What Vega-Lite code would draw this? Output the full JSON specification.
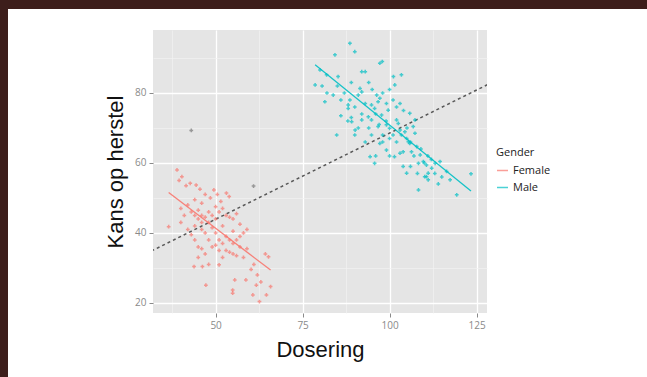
{
  "$schema": "https://vega.github.io/schema/vega-lite/v6.json",
  "background": "white",
  "padding": 0,
  "spacing": 0,
  "config": {"view": {"stroke": null}, "concat": {"spacing": 0}},
  "datasets": {
    "points": [
      {"dose": 38.9, "recovery": 58, "gender": "Female"},
      {"dose": 40.3, "recovery": 56.1, "gender": "Female"},
      {"dose": 39.5, "recovery": 55, "gender": "Female"},
      {"dose": 41.5, "recovery": 53.5, "gender": "Female"},
      {"dose": 42.7, "recovery": 54.2, "gender": "Female"},
      {"dose": 44.4, "recovery": 53.7, "gender": "Female"},
      {"dose": 45.5, "recovery": 52.5, "gender": "Female"},
      {"dose": 47, "recovery": 51, "gender": "Female"},
      {"dose": 49.5, "recovery": 52.3, "gender": "Female"},
      {"dose": 50.5, "recovery": 51, "gender": "Female"},
      {"dose": 53.1, "recovery": 51.4, "gender": "Female"},
      {"dose": 53.9, "recovery": 50.4, "gender": "Female"},
      {"dose": 48.5, "recovery": 50, "gender": "Female"},
      {"dose": 51.5, "recovery": 49, "gender": "Female"},
      {"dose": 44, "recovery": 49.5, "gender": "Female"},
      {"dose": 46, "recovery": 48.5, "gender": "Female"},
      {"dose": 42, "recovery": 48, "gender": "Female"},
      {"dose": 40, "recovery": 47, "gender": "Female"},
      {"dose": 43, "recovery": 46, "gender": "Female"},
      {"dose": 44, "recovery": 45, "gender": "Female"},
      {"dose": 45, "recovery": 46.5, "gender": "Female"},
      {"dose": 46, "recovery": 45, "gender": "Female"},
      {"dose": 47, "recovery": 44.5, "gender": "Female"},
      {"dose": 48, "recovery": 46, "gender": "Female"},
      {"dose": 49, "recovery": 45, "gender": "Female"},
      {"dose": 50, "recovery": 44, "gender": "Female"},
      {"dose": 51, "recovery": 46, "gender": "Female"},
      {"dose": 52, "recovery": 47, "gender": "Female"},
      {"dose": 48, "recovery": 43, "gender": "Female"},
      {"dose": 46, "recovery": 43, "gender": "Female"},
      {"dose": 45, "recovery": 44, "gender": "Female"},
      {"dose": 50, "recovery": 47.5, "gender": "Female"},
      {"dose": 53, "recovery": 45, "gender": "Female"},
      {"dose": 54, "recovery": 44.5, "gender": "Female"},
      {"dose": 55, "recovery": 44, "gender": "Female"},
      {"dose": 56, "recovery": 45.5, "gender": "Female"},
      {"dose": 36.5, "recovery": 41.8, "gender": "Female"},
      {"dose": 40, "recovery": 43, "gender": "Female"},
      {"dose": 42, "recovery": 41, "gender": "Female"},
      {"dose": 43, "recovery": 39.5, "gender": "Female"},
      {"dose": 44, "recovery": 38, "gender": "Female"},
      {"dose": 45, "recovery": 36, "gender": "Female"},
      {"dose": 46, "recovery": 41, "gender": "Female"},
      {"dose": 47, "recovery": 40, "gender": "Female"},
      {"dose": 48, "recovery": 38, "gender": "Female"},
      {"dose": 49, "recovery": 41.5, "gender": "Female"},
      {"dose": 50, "recovery": 40, "gender": "Female"},
      {"dose": 51, "recovery": 38, "gender": "Female"},
      {"dose": 52, "recovery": 37, "gender": "Female"},
      {"dose": 53, "recovery": 39, "gender": "Female"},
      {"dose": 54, "recovery": 38, "gender": "Female"},
      {"dose": 55, "recovery": 37, "gender": "Female"},
      {"dose": 56, "recovery": 38, "gender": "Female"},
      {"dose": 57, "recovery": 39, "gender": "Female"},
      {"dose": 58, "recovery": 40, "gender": "Female"},
      {"dose": 59, "recovery": 41, "gender": "Female"},
      {"dose": 53, "recovery": 35, "gender": "Female"},
      {"dose": 55, "recovery": 34, "gender": "Female"},
      {"dose": 56, "recovery": 33.5, "gender": "Female"},
      {"dose": 54, "recovery": 34.5, "gender": "Female"},
      {"dose": 51, "recovery": 35, "gender": "Female"},
      {"dose": 52, "recovery": 33, "gender": "Female"},
      {"dose": 49, "recovery": 36, "gender": "Female"},
      {"dose": 47, "recovery": 34, "gender": "Female"},
      {"dose": 46, "recovery": 35.5, "gender": "Female"},
      {"dose": 45, "recovery": 33, "gender": "Female"},
      {"dose": 48, "recovery": 31, "gender": "Female"},
      {"dose": 43.8, "recovery": 30.4, "gender": "Female"},
      {"dose": 46.2, "recovery": 30.4, "gender": "Female"},
      {"dose": 51, "recovery": 30.9, "gender": "Female"},
      {"dose": 58, "recovery": 33, "gender": "Female"},
      {"dose": 60.2, "recovery": 29.6, "gender": "Female"},
      {"dose": 61, "recovery": 31, "gender": "Female"},
      {"dose": 64.3, "recovery": 34, "gender": "Female"},
      {"dose": 65.2, "recovery": 33.2, "gender": "Female"},
      {"dose": 62, "recovery": 28, "gender": "Female"},
      {"dose": 65.8, "recovery": 24.7, "gender": "Female"},
      {"dose": 63, "recovery": 26, "gender": "Female"},
      {"dose": 61.7, "recovery": 25.1, "gender": "Female"},
      {"dose": 58.7, "recovery": 26.6, "gender": "Female"},
      {"dose": 55.5, "recovery": 26.6, "gender": "Female"},
      {"dose": 47.2, "recovery": 25.1, "gender": "Female"},
      {"dose": 54.9, "recovery": 22.8, "gender": "Female"},
      {"dose": 54.9, "recovery": 23.7, "gender": "Female"},
      {"dose": 60.7, "recovery": 22.3, "gender": "Female"},
      {"dose": 64.6, "recovery": 22.3, "gender": "Female"},
      {"dose": 62.6, "recovery": 20.4, "gender": "Female"},
      {"dose": 57, "recovery": 36, "gender": "Female"},
      {"dose": 59, "recovery": 35.5, "gender": "Female"},
      {"dose": 50, "recovery": 36.5, "gender": "Female"},
      {"dose": 44, "recovery": 42, "gender": "Female"},
      {"dose": 41, "recovery": 45, "gender": "Female"},
      {"dose": 52, "recovery": 42, "gender": "Female"},
      {"dose": 57, "recovery": 42.5, "gender": "Female"},
      {"dose": 55, "recovery": 40.5, "gender": "Female"},
      {"dose": 88.6, "recovery": 94.2, "gender": "Male"},
      {"dose": 90, "recovery": 91.8, "gender": "Male"},
      {"dose": 84.3, "recovery": 90.9, "gender": "Male"},
      {"dose": 97.9, "recovery": 89, "gender": "Male"},
      {"dose": 97.2, "recovery": 88.5, "gender": "Male"},
      {"dose": 78.6, "recovery": 82.3, "gender": "Male"},
      {"dose": 80, "recovery": 86.6, "gender": "Male"},
      {"dose": 81.9, "recovery": 85.2, "gender": "Male"},
      {"dose": 85.2, "recovery": 84.7, "gender": "Male"},
      {"dose": 92, "recovery": 86.1, "gender": "Male"},
      {"dose": 93, "recovery": 86.1, "gender": "Male"},
      {"dose": 101.1, "recovery": 84.7, "gender": "Male"},
      {"dose": 101.5, "recovery": 82.3, "gender": "Male"},
      {"dose": 103.4, "recovery": 85.2, "gender": "Male"},
      {"dose": 81.4, "recovery": 77.5, "gender": "Male"},
      {"dose": 83.8, "recovery": 79.4, "gender": "Male"},
      {"dose": 88.6, "recovery": 78, "gender": "Male"},
      {"dose": 91.5, "recovery": 81.3, "gender": "Male"},
      {"dose": 92, "recovery": 80.3, "gender": "Male"},
      {"dose": 91, "recovery": 79.4, "gender": "Male"},
      {"dose": 88.1, "recovery": 76.6, "gender": "Male"},
      {"dose": 88.1, "recovery": 75.6, "gender": "Male"},
      {"dose": 96.3, "recovery": 79.4, "gender": "Male"},
      {"dose": 97.2, "recovery": 78.5, "gender": "Male"},
      {"dose": 96.7, "recovery": 77.5, "gender": "Male"},
      {"dose": 94.8, "recovery": 76.6, "gender": "Male"},
      {"dose": 95.7, "recovery": 75.6, "gender": "Male"},
      {"dose": 99.1, "recovery": 77, "gender": "Male"},
      {"dose": 99.6, "recovery": 75.1, "gender": "Male"},
      {"dose": 101, "recovery": 78, "gender": "Male"},
      {"dose": 84.8, "recovery": 68, "gender": "Male"},
      {"dose": 90.1, "recovery": 69.4, "gender": "Male"},
      {"dose": 89.1, "recovery": 71.8, "gender": "Male"},
      {"dose": 92, "recovery": 72.3, "gender": "Male"},
      {"dose": 93.9, "recovery": 73.2, "gender": "Male"},
      {"dose": 94.8, "recovery": 72.3, "gender": "Male"},
      {"dose": 97.7, "recovery": 73.7, "gender": "Male"},
      {"dose": 96.7, "recovery": 70.4, "gender": "Male"},
      {"dose": 99.1, "recovery": 70.9, "gender": "Male"},
      {"dose": 100, "recovery": 69.9, "gender": "Male"},
      {"dose": 102, "recovery": 72.3, "gender": "Male"},
      {"dose": 102.5, "recovery": 71.3, "gender": "Male"},
      {"dose": 103, "recovery": 69.4, "gender": "Male"},
      {"dose": 103.4, "recovery": 68, "gender": "Male"},
      {"dose": 104.4, "recovery": 68.9, "gender": "Male"},
      {"dose": 104.9, "recovery": 67, "gender": "Male"},
      {"dose": 105.4, "recovery": 66.1, "gender": "Male"},
      {"dose": 106.8, "recovery": 70.4, "gender": "Male"},
      {"dose": 107.3, "recovery": 68.5, "gender": "Male"},
      {"dose": 100, "recovery": 67, "gender": "Male"},
      {"dose": 94.8, "recovery": 68, "gender": "Male"},
      {"dose": 94.4, "recovery": 61.8, "gender": "Male"},
      {"dose": 97.2, "recovery": 65.6, "gender": "Male"},
      {"dose": 99.1, "recovery": 63.7, "gender": "Male"},
      {"dose": 101.4, "recovery": 61.8, "gender": "Male"},
      {"dose": 103, "recovery": 62.8, "gender": "Male"},
      {"dose": 105.8, "recovery": 65.6, "gender": "Male"},
      {"dose": 106.3, "recovery": 63.2, "gender": "Male"},
      {"dose": 107.8, "recovery": 64.7, "gender": "Male"},
      {"dose": 108.8, "recovery": 62.3, "gender": "Male"},
      {"dose": 109.7, "recovery": 60.4, "gender": "Male"},
      {"dose": 110.6, "recovery": 59.4, "gender": "Male"},
      {"dose": 111.1, "recovery": 57.1, "gender": "Male"},
      {"dose": 110.6, "recovery": 56.1, "gender": "Male"},
      {"dose": 112.1, "recovery": 58.5, "gender": "Male"},
      {"dose": 113.1, "recovery": 59.9, "gender": "Male"},
      {"dose": 114.5, "recovery": 60.4, "gender": "Male"},
      {"dose": 108.3, "recovery": 59.9, "gender": "Male"},
      {"dose": 103.9, "recovery": 59, "gender": "Male"},
      {"dose": 104.9, "recovery": 57.1, "gender": "Male"},
      {"dose": 103.9, "recovery": 63.2, "gender": "Male"},
      {"dose": 95.7, "recovery": 59.9, "gender": "Male"},
      {"dose": 108.3, "recovery": 52.3, "gender": "Male"},
      {"dose": 119.3, "recovery": 50.9, "gender": "Male"},
      {"dose": 123.4, "recovery": 56.9, "gender": "Male"},
      {"dose": 116.4, "recovery": 57.6, "gender": "Male"},
      {"dose": 117.4, "recovery": 55.2, "gender": "Male"},
      {"dose": 110.1, "recovery": 56.1, "gender": "Male"},
      {"dose": 111.1, "recovery": 55.2, "gender": "Male"},
      {"dose": 107.3, "recovery": 72.3, "gender": "Male"},
      {"dose": 105.8, "recovery": 74.2, "gender": "Male"},
      {"dose": 80.6, "recovery": 82, "gender": "Male"},
      {"dose": 86, "recovery": 73.5, "gender": "Male"},
      {"dose": 88, "recovery": 72, "gender": "Male"},
      {"dose": 90, "recovery": 68, "gender": "Male"},
      {"dose": 91, "recovery": 70, "gender": "Male"},
      {"dose": 96, "recovery": 62, "gender": "Male"},
      {"dose": 98, "recovery": 66, "gender": "Male"},
      {"dose": 87, "recovery": 80, "gender": "Male"},
      {"dose": 89, "recovery": 83, "gender": "Male"},
      {"dose": 94, "recovery": 83, "gender": "Male"},
      {"dose": 95, "recovery": 81, "gender": "Male"},
      {"dose": 98, "recovery": 80, "gender": "Male"},
      {"dose": 100, "recovery": 81, "gender": "Male"},
      {"dose": 102, "recovery": 76, "gender": "Male"},
      {"dose": 104, "recovery": 75, "gender": "Male"},
      {"dose": 103, "recovery": 77, "gender": "Male"},
      {"dose": 93, "recovery": 77, "gender": "Male"},
      {"dose": 90, "recovery": 76, "gender": "Male"},
      {"dose": 86, "recovery": 78, "gender": "Male"},
      {"dose": 85, "recovery": 82, "gender": "Male"},
      {"dose": 82, "recovery": 80, "gender": "Male"},
      {"dose": 99, "recovery": 72, "gender": "Male"},
      {"dose": 101, "recovery": 68, "gender": "Male"},
      {"dose": 98, "recovery": 68, "gender": "Male"},
      {"dose": 105, "recovery": 70, "gender": "Male"},
      {"dose": 106, "recovery": 66, "gender": "Male"},
      {"dose": 107, "recovery": 62, "gender": "Male"},
      {"dose": 109, "recovery": 64, "gender": "Male"},
      {"dose": 111, "recovery": 62, "gender": "Male"},
      {"dose": 112, "recovery": 61, "gender": "Male"},
      {"dose": 113, "recovery": 57, "gender": "Male"},
      {"dose": 115, "recovery": 56, "gender": "Male"},
      {"dose": 114, "recovery": 54, "gender": "Male"},
      {"dose": 110, "recovery": 60, "gender": "Male"},
      {"dose": 108, "recovery": 57, "gender": "Male"},
      {"dose": 106, "recovery": 59, "gender": "Male"},
      {"dose": 100, "recovery": 62, "gender": "Male"},
      {"dose": 102, "recovery": 66, "gender": "Male"},
      {"dose": 97, "recovery": 71, "gender": "Male"},
      {"dose": 92, "recovery": 74, "gender": "Male"},
      {"dose": 96, "recovery": 74, "gender": "Male"},
      {"dose": 94, "recovery": 70, "gender": "Male"},
      {"dose": 93, "recovery": 66, "gender": "Male"},
      {"dose": 89, "recovery": 73, "gender": "Male"}
    ],
    "other": [
      {"dose": 43, "recovery": 69.3},
      {"dose": 60.9, "recovery": 53.4}
    ],
    "fits": [
      {"dose": 36.5, "recovery": 51.6, "gender": "Female"},
      {"dose": 65.8, "recovery": 29.4, "gender": "Female"},
      {"dose": 78.6, "recovery": 88.1, "gender": "Male"},
      {"dose": 123.4, "recovery": 52.0, "gender": "Male"}
    ],
    "overall": [
      {"dose": 30, "recovery": 34.1},
      {"dose": 130, "recovery": 83.3}
    ]
  },
  "hconcat": [
    {
      "width": 8, "height": 377,
      "view": {"fill": "#3d1e1b", "stroke": null},
      "data": {"values": []},
      "mark": "point"
    },
    {
      "spacing": 21,
      "vconcat": [
        {
          "width": 639, "height": 9,
          "view": {"fill": "#3d1e1b", "stroke": null},
          "data": {"values": []},
          "mark": "point"
        },
        {
          "spacing": 144,
          "bounds": "flush",
          "hconcat": [
            {"width": 1, "height": 1, "data": {"values": []}, "mark": "point"},
            {
              "width": 334, "height": 283,
              "view": {"fill": "#E5E5E5", "stroke": null},
              "encoding": {
                "x": {
                  "field": "dose", "type": "quantitative",
                  "scale": {"domain": [32, 128], "nice": false, "zero": false},
                  "axis": {
                    "title": "Dosering",
                    "values": [37.5, 50, 62.5, 75, 87.5, 100, 112.5, 125],
                    "labelExpr": "datum.value % 25 === 0 ? datum.label : ''",
                    "labelOverlap": false,
                    "labelFlush": false,
                    "domain": false,
                    "gridColor": {"condition": {"test": "datum.value % 25 === 0", "value": "#FFFFFF"}, "value": "#F2F2F2"},
                    "gridWidth": {"condition": {"test": "datum.value % 25 === 0", "value": 1.3}, "value": 0.7},
                    "tickOpacity": {"condition": {"test": "datum.value % 25 === 0", "value": 1}, "value": 0},
                    "tickColor": "#8a8a8a",
                    "tickSize": 4,
                    "labelColor": "#8a8a8a",
                    "labelFont": "Open Sans",
                    "labelFontSize": 10,
                    "labelPadding": 3,
                    "titleFont": "Liberation Sans",
                    "titleFontSize": 22,
                    "titleFontWeight": "normal",
                    "titleColor": "#111111",
                    "titlePadding": 9
                  }
                },
                "y": {
                  "field": "recovery", "type": "quantitative",
                  "scale": {"domain": [17.14, 98], "nice": false, "zero": false},
                  "axis": {
                    "title": "Kans op herstel",
                    "values": [20, 30, 40, 50, 60, 70, 80, 90],
                    "labelExpr": "datum.value % 20 === 0 ? datum.label : ''",
                    "labelOverlap": false,
                    "labelFlush": false,
                    "domain": false,
                    "gridColor": {"condition": {"test": "datum.value % 20 === 0", "value": "#FFFFFF"}, "value": "#F2F2F2"},
                    "gridWidth": {"condition": {"test": "datum.value % 20 === 0", "value": 1.3}, "value": 0.7},
                    "tickOpacity": {"condition": {"test": "datum.value % 20 === 0", "value": 1}, "value": 0},
                    "tickColor": "#8a8a8a",
                    "tickSize": 4,
                    "labelColor": "#8a8a8a",
                    "labelFont": "Open Sans",
                    "labelFontSize": 10,
                    "labelPadding": 3,
                    "titleFont": "Liberation Sans",
                    "titleFontSize": 22,
                    "titleFontWeight": "normal",
                    "titleColor": "#111111",
                    "titlePadding": 7
                  }
                }
              },
              "layer": [
                {
                  "data": {"name": "overall"},
                  "mark": {"type": "line", "color": "#333333", "strokeWidth": 1.5, "strokeDash": [3, 3], "opacity": 0.8, "clip": true}
                },
                {
                  "data": {"name": "other"},
                  "mark": {"type": "point", "shape": "cross", "filled": true, "size": 14, "color": "#777777", "opacity": 0.7}
                },
                {
                  "data": {"name": "points"},
                  "mark": {"type": "point", "shape": "cross", "filled": true, "size": 14, "opacity": 0.7},
                  "encoding": {
                    "color": {
                      "field": "gender", "type": "nominal",
                      "scale": {"domain": ["Female", "Male"], "range": ["#F8766D", "#00BFC4"]},
                      "legend": {
                        "title": "Gender",
                        "orient": "none",
                        "legendX": 496,
                        "legendY": 147,
                        "symbolType": "stroke",
                        "symbolStrokeWidth": 1.5,
                        "symbolSize": 120,
                        "titleFont": "Open Sans",
                        "titleFontSize": 11,
                        "titleFontWeight": "normal",
                        "titleColor": "#222222",
                        "labelFont": "Open Sans",
                        "labelFontSize": 11,
                        "labelColor": "#222222",
                        "rowPadding": 5,
                        "titlePadding": 6
                      }
                    }
                  }
                },
                {
                  "data": {"name": "fits"},
                  "mark": {"type": "line", "strokeWidth": 1.3, "opacity": 0.9},
                  "encoding": {
                    "color": {"field": "gender", "type": "nominal"},
                    "detail": {"field": "gender"}
                  }
                }
              ]
            }
          ]
        }
      ]
    }
  ]
}
